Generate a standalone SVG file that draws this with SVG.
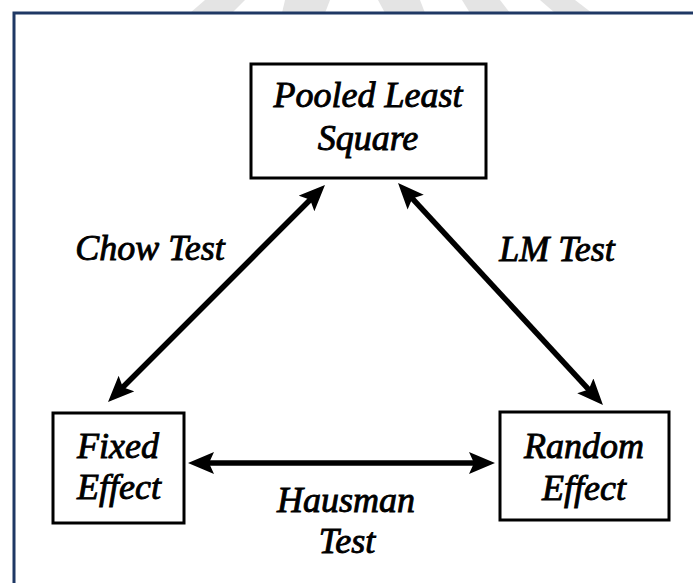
<svg xmlns="http://www.w3.org/2000/svg" width="693" height="583" viewBox="0 0 693 583">
<style>
.box{fill:#fff;stroke:#000;stroke-width:3}
.t{font-family:"Liberation Serif","Times New Roman",serif;font-style:italic;font-size:36px;fill:#000;stroke:#000;stroke-width:0.9;text-anchor:middle}
.arr{stroke:#000;stroke-width:5.5;fill:none;marker-start:url(#ah);marker-end:url(#ah)}
.wm{fill:#e4e4e4}
</style>
<defs>
<marker id="ah" markerUnits="userSpaceOnUse" markerWidth="28" markerHeight="24" refX="15" refY="11" orient="auto-start-reverse" viewBox="0 0 28 24">
<path d="M0,0 L26,11 L0,22 L5,11 z" fill="#000"/>
</marker>
</defs>
<rect width="693" height="583" fill="#fff"/>
<g id="watermark">
<polygon class="wm" points="205,0 245,0 232,13 190,13"/>
<polygon class="wm" points="285,0 330,0 325,13 282,13"/>
<polygon class="wm" points="378,0 420,0 425,13 385,13"/>
<polygon class="wm" points="462,0 500,0 510,13 470,13"/>
<polygon class="wm" points="540,0 575,0 592,13 555,13"/>
</g>
<rect id="frame" x="14" y="13" width="700" height="600" fill="none" stroke="#1f3864" stroke-width="3"/>
<g id="connectors">
<line class="arr" x1="115.8" y1="394.2" x2="317.2" y2="192.8"/>
<line class="arr" x1="405.5" y1="191.1" x2="595.5" y2="396.9"/>
<line class="arr" x1="199" y1="463" x2="484" y2="463"/>
<text class="t" x="150" y="260">Chow Test</text>
<text class="t" x="557" y="261">LM Test</text>
<text class="t" x="346" y="512">Hausman</text>
<text class="t" x="347" y="553">Test</text>
</g>
<g id="pooled">
<rect class="box" x="251" y="64" width="235" height="114"/>
<text class="t" x="368" y="107">Pooled Least</text>
<text class="t" x="368" y="150">Square</text>
</g>
<g id="fixed">
<rect class="box" x="53" y="413" width="131" height="110"/>
<text class="t" x="118" y="458">Fixed</text>
<text class="t" x="119" y="499">Effect</text>
</g>
<g id="random">
<rect class="box" x="500" y="412" width="169" height="108"/>
<text class="t" x="584" y="458">Random</text>
<text class="t" x="584" y="500">Effect</text>
</g>
</svg>
